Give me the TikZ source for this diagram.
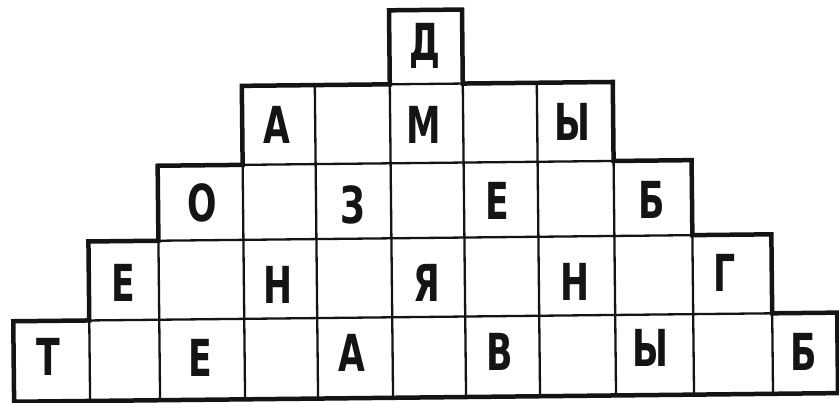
\documentclass[tikz,border=0pt]{standalone}
\usepackage{fontspec}
\setmainfont{DejaVu Sans}
\definecolor{ink}{HTML}{141414}
\newcommand\hwl[1]{\scalebox{0.68}[1]{#1}}
\begin{document}
\begin{tikzpicture}[x=1pt,y=-1pt,
  outline/.style={line width=4.5pt,line join=miter,draw=ink},
  gridline/.style={line width=2.3pt,draw=ink,line cap=butt},
  letter/.style={font=\bfseries\fontsize{51}{51}\selectfont,text=ink,inner sep=0pt,anchor=base}]
\useasboundingbox[fill=white] (0,0) rectangle (839,403);
\begin{scope}[rotate around={0.6:(420,200)}]
  % interior horizontal lines
  \draw[gridline] (88,317) -- (771,317);
  \draw[gridline] (158,238) -- (692,238);
  \draw[gridline] (243,163) -- (614,163);
  \draw[gridline] (391,84) -- (464,84);
  % interior vertical lines
  \foreach \cx/\ty in {88/317,158/238,243/163,316/84,391/84,464/84,538/84,614/163,692/238,771/317}
    \draw[gridline] (\cx,\ty) -- (\cx,397.5);
  % outer staircase outline
  \draw[outline] (12,397.5) -- (12,317) -- (88,317) -- (88,238) -- (158,238) -- (158,163)
     -- (243,163) -- (243,84) -- (391,84) -- (391,10) -- (464,10) -- (464,84)
     -- (614,84) -- (614,163) -- (692,163) -- (692,238) -- (771,238) -- (771,317)
     -- (836,317) -- (836,397.5) -- cycle;
\end{scope}
% row 0
\node[letter] (r0a) at (425,61) {\hwl{Д}};
% row 1
\node[letter] (r1a) at (277,143.5) {\hwl{А}};
\node[letter] (r1b) at (424,143.5) {\hwl{М}};
\node[letter] (r1c) at (572,140.5) {\hwl{Ы}};
% row 2
\node[letter] (r2a) at (202,221.5) {\hwl{О}};
\node[letter] (r2b) at (353,223.5) {\hwl{З}};
\node[letter] (r2c) at (497,219.5) {\hwl{Е}};
\node[letter] (r2d) at (652,218.5) {\hwl{Б}};
% row 3
\node[letter] (r3a) at (123,301.5) {\hwl{Е}};
\node[letter] (r3b) at (278,303.5) {\hwl{Н}};
\node[letter] (r3c) at (427,301.5) {\hwl{Я}};
\node[letter] (r3d) at (575,300.5) {\hwl{Н}};
\node[letter] (r3e) at (725,291.5) {\hwl{Г}};
% row 4
\node[letter] (r4a) at (48,375.5) {\hwl{Т}};
\node[letter] (r4b) at (200,376.5) {\hwl{Е}};
\node[letter] (r4c) at (352,371.5) {\hwl{А}};
\node[letter] (r4d) at (500,370.5) {\hwl{В}};
\node[letter] (r4e) at (650,366.5) {\hwl{Ы}};
\node[letter] (r4f) at (804,370.5) {\hwl{Б}};
\end{tikzpicture}
\end{document}
